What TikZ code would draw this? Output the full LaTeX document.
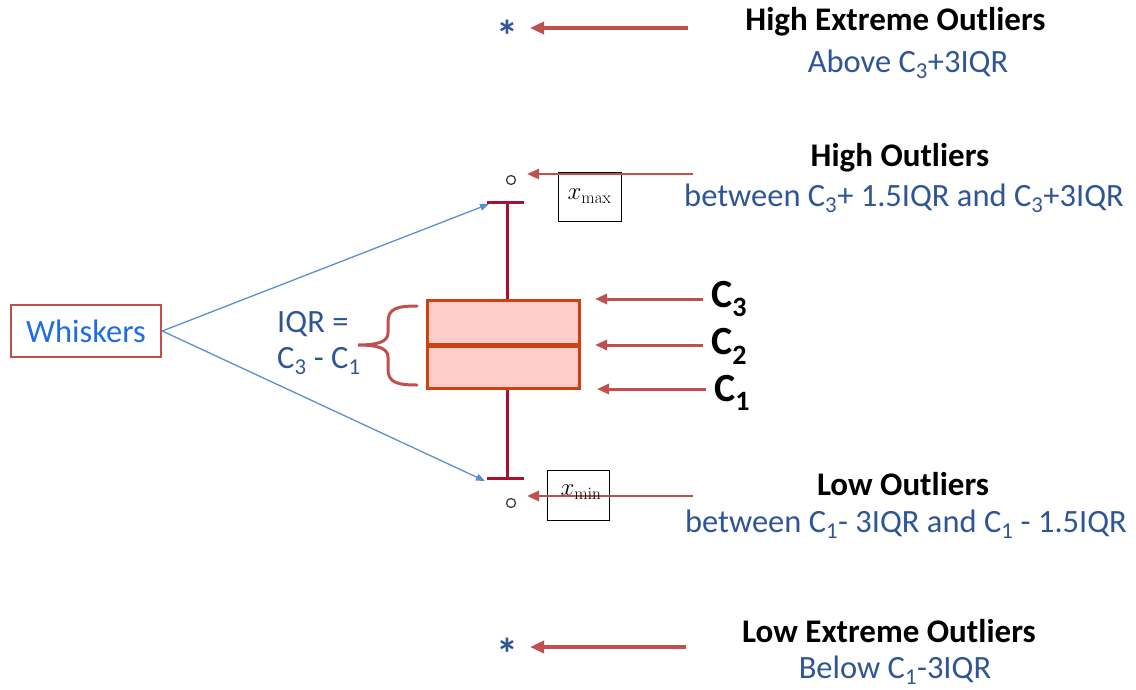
\documentclass[tikz,border=0pt]{standalone}
\usepackage[no-math]{fontspec}
\setmainfont{Carlito}
\usetikzlibrary{arrows.meta}
\definecolor{arrowred}{RGB}{192,80,77}
\definecolor{textblue}{RGB}{47,85,151}
\definecolor{brightblue}{RGB}{30,110,225}
\definecolor{lineblue}{RGB}{91,143,208}
\definecolor{boxedge}{RGB}{208,64,16}
\definecolor{boxfill}{RGB}{255,204,204}
\definecolor{whiskred}{RGB}{170,16,48}
\tikzset{
  redarrow/.style={draw=arrowred, line width=3.5pt, -{Triangle[length=14pt,width=12pt]}},
  thinredarrow/.style={draw=arrowred, line width=2.5pt, -{Triangle[length=12pt,width=10pt]}},
  bluearrow/.style={draw=lineblue, line width=1.3pt, -{Triangle[length=9pt,width=7pt]}},
  head/.style={font=\fontsize{33}{38}\selectfont\bfseries, text=black, inner sep=0pt},
  sub/.style={font=\fontsize{32.5}{38}\selectfont, text=textblue, inner sep=0pt},
  clabel/.style={font=\fontsize{40}{44}\selectfont\bfseries, text=black, inner sep=0pt, anchor=west},
  mathbox/.style={draw=black, line width=1pt, inner sep=0pt, font=\fontsize{26}{30}\selectfont},
  whisk/.style={draw=whiskred, line width=3pt},
  outlier/.style={circle, draw=black!75, line width=1.3pt, minimum size=9pt, inner sep=0pt},
  star/.style={font=\fontsize{44}{46}\selectfont\bfseries, text=textblue, inner sep=0pt},
}
\begin{document}
\begin{tikzpicture}[x=1pt,y=-1pt]
\path[use as bounding box] (0,0) rectangle (1136,689);

% extreme outlier markers
\node[star] (starhi) at (507,36) {*};
\node[star] (starlo) at (507,654) {*};
\coordinate (ahs) at (688,28); \coordinate (ahe) at (530,28);
\coordinate (als) at (686,647); \coordinate (ale) at (530,647);
\draw[redarrow] (ahs) -- (ahe);
\draw[redarrow] (als) -- (ale);

% labels right
\node[head] (hext) at (895.5,22) {High Extreme Outliers};
\node[sub] (hextb) at (908,64) {Above C\textsubscript{3}+3IQR};
\node[head] (hout) at (900,158) {High Outliers};
\node[sub] (houtb) at (904,198) {between C\textsubscript{3}+ 1.5IQR and C\textsubscript{3}+3IQR};
\node[head] (lout) at (903,484) {Low Outliers};
\node[sub] (loutb) at (906,524) {between C\textsubscript{1}- 3IQR and C\textsubscript{1} - 1.5IQR};
\node[head] (lext) at (889,631) {Low Extreme Outliers};
\node[sub] (lextb) at (895,670) {Below C\textsubscript{1}-3IQR};

% outlier circles
\node[outlier] (ohi) at (511,180) {};
\node[outlier] (olo) at (511,503) {};

% whiskers
\draw[whisk] (487,202) coordinate (capht1) -- (524,202) coordinate (capht2);
\draw[whisk] (507,202) coordinate (wtop) -- (507,300) coordinate (wtopb);
\draw[whisk] (507,388) coordinate (wbott) -- (507,478) coordinate (wbot);
\draw[whisk] (487,478) coordinate (caplo1) -- (524,478) coordinate (caplo2);

% box
\draw[draw=boxedge, fill=boxfill, line width=3pt] (427,300) rectangle (579,388);
\draw[draw=boxedge, line width=5pt] (427,345) -- (579,345);
\coordinate (boxtl) at (427,300);

% x max / x min boxes and arrows
\coordinate (hos) at (693,174); \coordinate (hoe) at (527,174);
\coordinate (los) at (693,496); \coordinate (loe) at (527,496);
\node[mathbox, minimum width=63pt, minimum height=49pt] (xmax) at (589.5,196.5) {\raisebox{4pt}{$x_{\max}$}};
\draw[thinredarrow] (hos) -- (hoe);
\node[mathbox, minimum width=62pt, minimum height=50pt] (xmin) at (578,495) {};
\draw[thinredarrow] (los) -- (loe);
\node[inner sep=0pt, font=\fontsize{26}{30}\selectfont] (xminlab) at (581,492) {$x_{\min}$};

% quartile arrows and labels
\coordinate (c3s) at (703,299); \coordinate (c3e) at (595,299);
\coordinate (c2s) at (703,345); \coordinate (c2e) at (595,345);
\coordinate (c1s) at (706,389); \coordinate (c1e) at (597,389);
\draw[thinredarrow, line width=3pt] (c3s) -- (c3e);
\draw[thinredarrow, line width=3pt] (c2s) -- (c2e);
\draw[thinredarrow, line width=3pt] (c1s) -- (c1e);
\node[clabel] (c3) at (711,299) {C\textsubscript{3}};
\node[clabel] (c2) at (711,346) {C\textsubscript{2}};
\node[clabel] (c1) at (714,393) {C\textsubscript{1}};

% whiskers label
\node[draw=arrowred, line width=2.5pt, minimum width=150pt, minimum height=52pt, inner sep=0pt,
      font=\fontsize{32.5}{36}\selectfont, text=brightblue] (wh) at (86,331) {Whiskers};
\coordinate (wt) at (489,204); \coordinate (wb) at (485,481);
\draw[bluearrow] (wh.east) -- (wt);
\draw[bluearrow] (wh.east) -- (wb);

% IQR text
\node[sub, anchor=west] (iqr1) at (277,324) {IQR =};
\node[sub, anchor=west] (iqr2) at (277,361) {C\textsubscript{3} - C\textsubscript{1}};

% brace
\draw[draw=arrowred, line width=3pt, line cap=round]
  (417,306) .. controls (396,306) and (388,309) .. (388,322) -- (388,333)
  .. controls (388,342) and (377,345) .. (358,345)
  .. controls (377,345) and (388,348) .. (388,357) -- (388,369)
  .. controls (388,382) and (396,385) .. (417,385);
\end{tikzpicture}
\end{document}
